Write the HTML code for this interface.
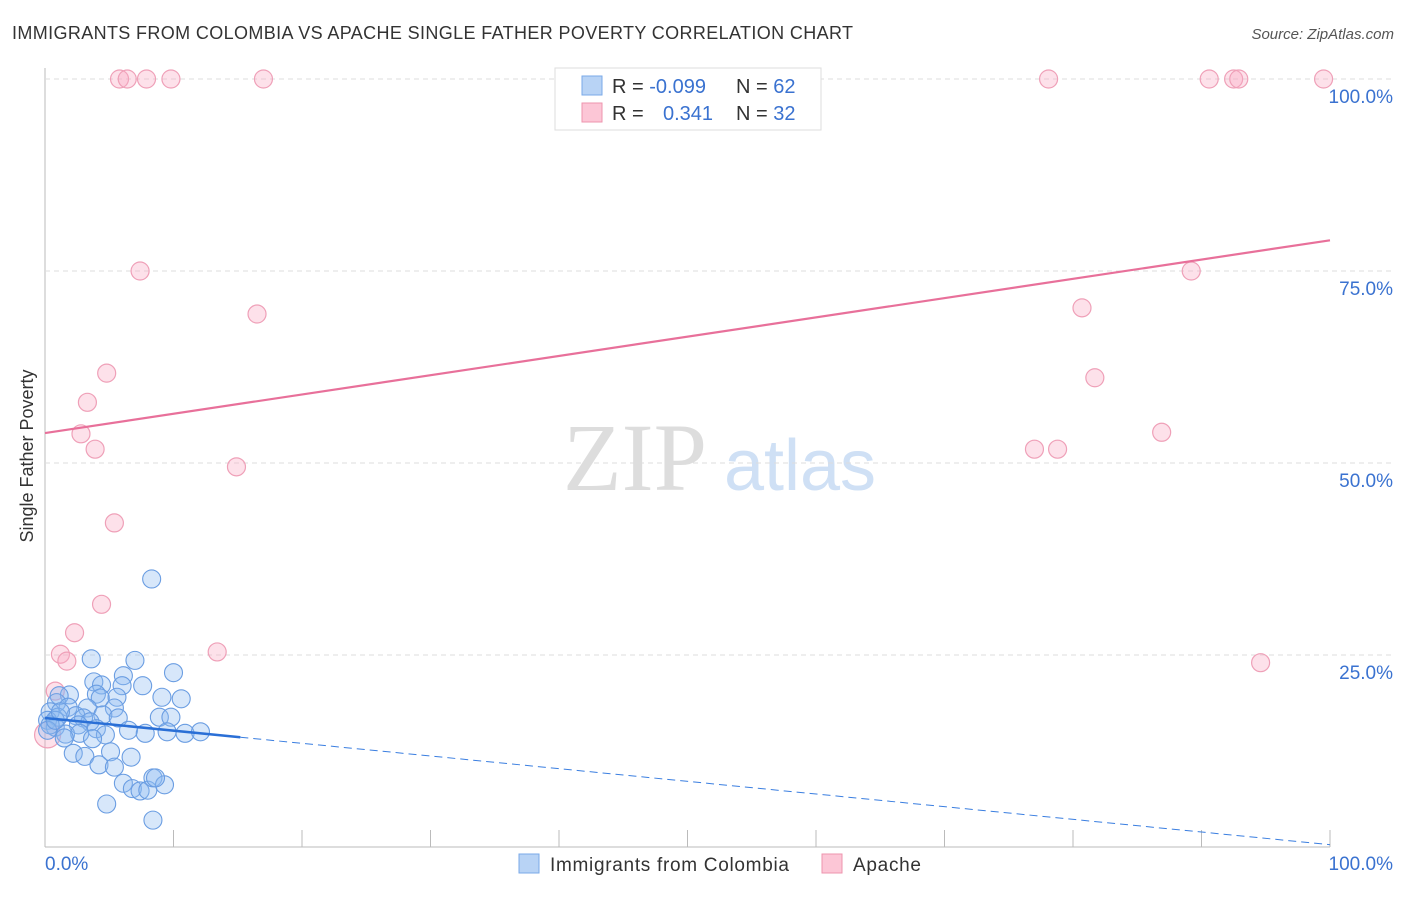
<!DOCTYPE html>
<html><head><meta charset="utf-8"><style>
body{margin:0;background:#fff;font-family:"Liberation Sans",sans-serif}
</style></head><body>
<svg width="1406" height="892" xmlns="http://www.w3.org/2000/svg" id="svg" font-family="Liberation Sans, sans-serif">
<text x="12" y="39" font-size="18" fill="#333" textLength="841">IMMIGRANTS FROM COLOMBIA VS APACHE SINGLE FATHER POVERTY CORRELATION CHART</text>
<text x="1394" y="39" font-size="15" fill="#555" font-style="italic" text-anchor="end">Source: ZipAtlas.com</text>
<text x="33" y="456" font-size="18" fill="#333" text-anchor="middle" transform="rotate(-90 33 456)">Single Father Poverty</text>
<g><text x="635" y="490" font-size="96" fill="#ddd" font-family="Liberation Serif, serif" text-anchor="middle">ZIP</text><text x="800" y="490" font-size="72" fill="#cfe0f5" text-anchor="middle">atlas</text></g>
<g id="grid"></g><g id="marks"></g>
<g>
<rect x="555" y="68" width="266" height="62" fill="#fff" stroke="#ddd"/>
<rect x="582" y="76" width="20" height="19" fill="#b8d3f5" stroke="#7aaae8"/>
<rect x="582" y="103" width="20" height="19" fill="#fcc6d6" stroke="#ee94ae"/>
<text x="612" y="93" font-size="20" fill="#333">R = <tspan fill="#3a72d0">-0.099</tspan></text>
<text x="736" y="93" font-size="20" fill="#333">N = <tspan fill="#3a72d0">62</tspan></text>
<text x="612" y="120" font-size="20" fill="#333">R = <tspan fill="#3a72d0" x="663">0.341</tspan></text>
<text x="736" y="120" font-size="20" fill="#333">N = <tspan fill="#3a72d0">32</tspan></text>
</g>
<g>
<rect x="519" y="854" width="20" height="19" fill="#b8d3f5" stroke="#7aaae8"/>
<text x="550" y="871" font-size="19" fill="#333" textLength="239">Immigrants from Colombia</text>
<rect x="822" y="854" width="20" height="19" fill="#fcc6d6" stroke="#ee94ae"/>
<text x="853" y="871" font-size="19" fill="#333" textLength="68">Apache</text>
</g>
</svg>
<script>
const blueX=[8.3,3.6,7.0,6.1,10.0,3.8,4.4,6.0,7.6,1.9,1.1,4.0,5.6,9.1,10.6,4.3,0.9,3.3,5.4,1.8,0.4,1.0,2.4,3.0,0.2,4.5,8.9,9.8,5.7,3.5,0.8,2.6,4.0,6.5,7.8,9.5,10.9,12.1,1.6,2.7,4.7,1.5,3.7,2.2,5.1,6.7,3.1,4.2,5.4,6.1,6.8,7.4,8.0,8.4,9.3,8.6,4.8,8.4,0.4,0.2,0.8,1.2];
const blueY=[34.9,24.5,24.3,22.3,22.7,21.5,21.1,21.0,21.0,19.8,19.7,19.9,19.5,19.5,19.3,19.4,18.8,18.1,18.1,18.2,17.6,16.9,17.1,16.8,16.5,17.2,16.9,16.9,16.8,16.3,15.6,15.9,15.4,15.2,14.8,15.0,14.8,15.0,14.7,14.8,14.6,14.2,14.1,12.2,12.4,11.7,11.8,10.7,10.4,8.3,7.6,7.3,7.4,9.0,8.1,9.0,5.6,3.5,15.9,15.2,16.5,17.6];
const pinkX=[5.8,6.4,7.9,9.8,17.0,78.1,90.6,92.5,92.9,99.5,7.4,89.2,16.5,80.7,4.8,81.7,3.3,2.8,3.9,14.9,77.0,78.8,86.9,5.4,4.4,2.3,1.2,1.7,13.4,94.6,0.8,0.2];
const pinkY=[100,100,100,100,100,100,100,100,100,100,75,75,69.4,70.2,61.7,61.1,57.9,53.8,51.8,49.5,51.8,51.8,54.0,42.2,31.6,27.9,25.1,24.2,25.4,24.0,20.3,14.6];
const yTicks=[25,50,75,100];
const xTickVals=[0,10,20,30,40,50,60,70,80,90,100];
const pinkTrend=[53.9,79.0];
const blueTrend=[16.8,0.3];
const blueSolidEnd=15.2;
const sx=v=>45+v*12.85, sy=v=>847-v*7.68;
const NS="http://www.w3.org/2000/svg";
function mk(t,a,p){const e=document.createElementNS(NS,t);for(const k in a)e.setAttribute(k,a[k]);(p||document.getElementById('marks')).appendChild(e);return e;}
const g=document.getElementById('grid');
mk('line',{x1:45,y1:68,x2:45,y2:847,stroke:'#bbb'},g);
mk('line',{x1:45,y1:847,x2:1330,y2:847,stroke:'#bbb'},g);
yTicks.forEach(v=>{
 const l=mk('line',{x1:45,y1:sy(v),x2:1394,y2:sy(v),stroke:'#ddd','stroke-dasharray':'5,4'},g);
 
 
 const t=mk('text',{x:1393,y:sy(v)+24,'font-size':19,fill:'#3a72d0','text-anchor':'end'},g);
 t.textContent=v.toFixed(1)+'%';
 
 
});
xTickVals.forEach(v=>{
 const l=mk('line',{x1:sx(v),y1:830,x2:sx(v),y2:847,stroke:'#bbb'},g);
 
 
});
[[0,'0.0%',45,'start'],[100,'100.0%',1393,'end']].forEach(a=>{
 const t=mk('text',{x:a[2],y:870,'font-size':19,fill:'#3a72d0','text-anchor':a[3]},g);
 t.textContent=a[1];
 
 
});
pinkX.forEach((x,i)=>{
 const c=mk('circle',{cx:sx(x),cy:sy(pinkY[i]),r:i==pinkX.length-1?13:9,fill:'rgba(248,170,195,0.35)',stroke:'#efa0b8','stroke-width':1.2});
 
 
});
blueX.forEach((x,i)=>{
 const c=mk('circle',{cx:sx(x),cy:sy(blueY[i]),r:9,fill:'rgba(140,185,240,0.35)',stroke:'#6a9de2','stroke-width':1.1});
 
 
});
const pl=mk('line',{x1:sx(0),y1:sy(pinkTrend[0]),x2:sx(100),y2:sy(pinkTrend[1]),stroke:'#e8709a','stroke-width':2.2});


const bAt=x=>blueTrend[0]+(blueTrend[1]-blueTrend[0])*x/100;
const bd=mk('line',{x1:sx(blueSolidEnd),y1:sy(bAt(blueSolidEnd)),x2:sx(100),y2:sy(bAt(100)),stroke:'#3a7ee0','stroke-width':1,'stroke-dasharray':'8,5'});


const bl=mk('line',{x1:sx(0),y1:sy(bAt(0)),x2:sx(blueSolidEnd),y2:sy(bAt(blueSolidEnd)),stroke:'#2a6fd6','stroke-width':2.5});


</script>
</body></html>
